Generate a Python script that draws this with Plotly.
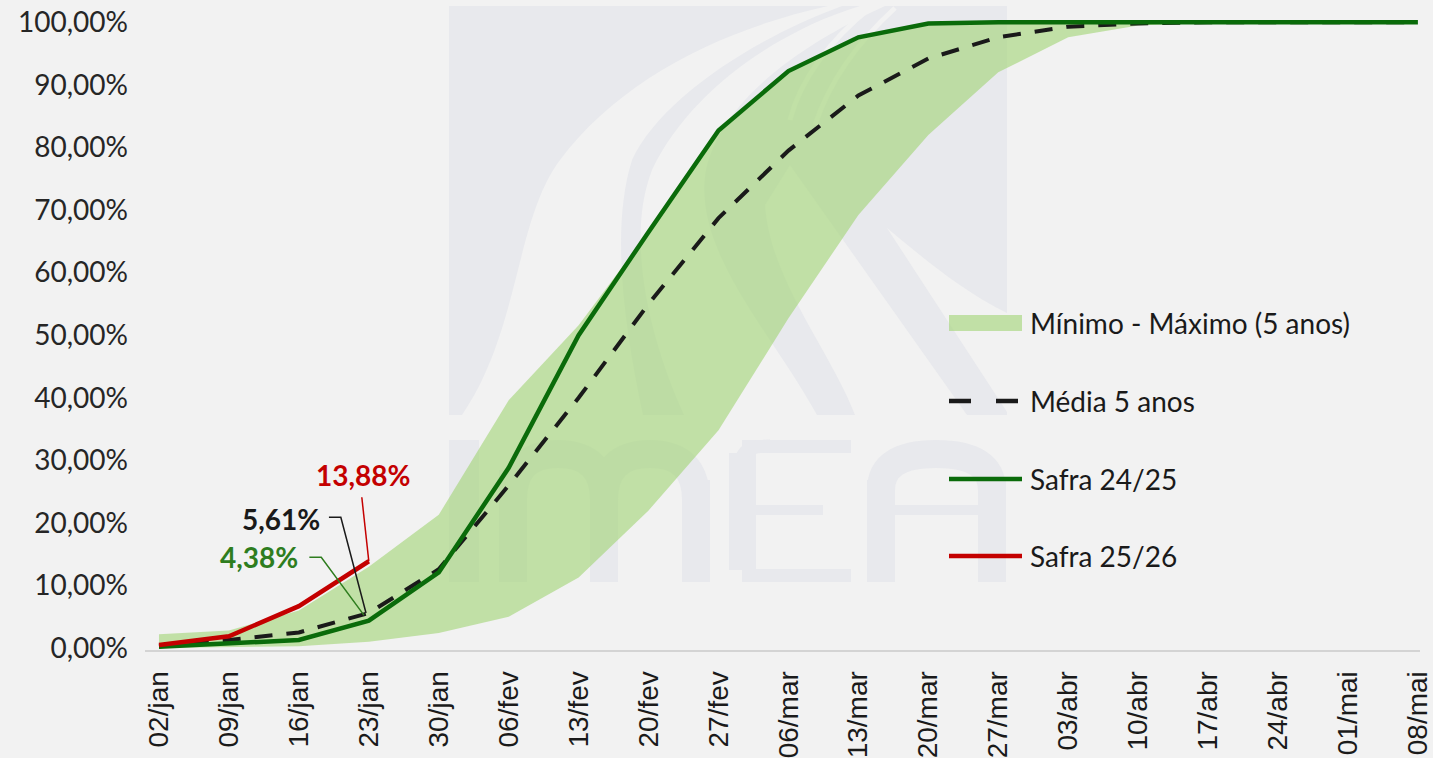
import plotly.graph_objects as go

# ---------------- data ----------------
categories = ["02/jan", "09/jan", "16/jan", "23/jan", "30/jan", "06/fev", "13/fev",
              "20/fev", "27/fev", "06/mar", "13/mar", "20/mar", "27/mar", "03/abr",
              "10/abr", "17/abr", "24/abr", "01/mai", "08/mai"]
band_min = [0.0, 0.1, 0.3, 1.0, 2.4, 5.0, 11.3, 22.0, 34.8, 52.7, 69.2, 82.0, 92.0,
            97.6, 99.5, 100, 100, 100, 100]
band_max = [2.2, 2.8, 6.0, 13.0, 21.3, 39.6, 51.6, 66.5, 82.7, 92.2, 97.6, 99.8, 100,
            100, 100, 100, 100, 100, 100]
media_5_anos = [0.3, 1.3, 2.5, 5.61, 12.6, 26.0, 40.0, 55.0, 68.7, 79.5, 88.3, 94.2,
                97.6, 99.3, 99.8, 100, 100, 100, 100]
safra_2425 = [0.2, 0.7, 1.3, 4.38, 12.1, 28.8, 50.0, 66.5, 82.7, 92.2, 97.6, 99.8, 100,
              100, 100, 100, 100, 100, 100]
safra_2526 = [0.5, 1.9, 6.7, 13.88]
y_ticks = [0, 10, 20, 30, 40, 50, 60, 70, 80, 90, 100]
y_tick_labels = ["0,00%", "10,00%", "20,00%", "30,00%", "40,00%", "50,00%", "60,00%",
                 "70,00%", "80,00%", "90,00%", "100,00%"]
legend_names = ["Mínimo - Máximo (5 anos)", "Média 5 anos", "Safra 24/25", "Safra 25/26"]

# ---------------- style ----------------
BG = "#f2f2f2"
WM = "#e8e9ed"
BAND = "rgba(160,212,115,0.6)"
GREEN = "#0a6b0a"
RED = "#c40000"
BLACK = "#1a1a1a"
LBL_GREEN = "#2e7d1e"
FONT = "Lato"

W, H = 1433, 758
ML, MR, MT, MB = 145, 13, 16, 108
PW, PH = W - ML - MR, H - MT - MB


def px(x, y):
    """pixel -> paper coordinates"""
    return (x - ML) / PW, (H - MB - y) / PH


def path(cmds):
    out = []
    for c in cmds:
        if isinstance(c, str):
            out.append(c)
        else:
            X, Y = px(*c)
            out.append(f"{X:.5f},{Y:.5f}")
    return " ".join(out)


def pct(v):
    return f"{v:.2f}%".replace(".", ",")


n = len(categories)
idx = list(range(n))

fig = go.Figure()
fig.add_trace(go.Scatter(x=idx, y=band_min, mode="lines", line=dict(width=0),
                         hoverinfo="skip", showlegend=False))
fig.add_trace(go.Scatter(x=idx, y=band_max, mode="lines", line=dict(width=0),
                         fill="tonexty", fillcolor=BAND, name=legend_names[0],
                         showlegend=False))
fig.add_trace(go.Scatter(x=idx, y=media_5_anos, mode="lines", name=legend_names[1],
                         line=dict(color=BLACK, width=4, dash="18px,14px"), showlegend=False))
fig.add_trace(go.Scatter(x=idx, y=safra_2425, mode="lines", name=legend_names[2],
                         line=dict(color=GREEN, width=4.5), showlegend=False))
fig.add_trace(go.Scatter(x=idx[:len(safra_2526)], y=safra_2526, mode="lines",
                         name=legend_names[3], line=dict(color=RED, width=4.5),
                         showlegend=False))

shapes = []
# ---------------- watermark (IMEA logo, approximate) ----------------
wm = dict(xref="paper", yref="paper", layer="below", line=dict(width=0))
x0, y0 = px(449, 415)
x1, y1 = px(1007, 6)
shapes.append(dict(type="rect", x0=x0, y0=y0, x1=x1, y1=y1, fillcolor=WM, **wm))
# white crescent (left)
shapes.append(dict(type="path", fillcolor=BG, path=path([
    "M", (462, 415), "C", (520, 330), (515, 220), (560, 160),
    "C", (620, 80), (720, 30), (828, 6), "L", (842, 6),
    "C", (750, 40), (660, 100), (632, 160),
    "C", (610, 230), (625, 330), (643, 415), "Z"]), **wm))
# white region between stripe 1 and stripe 2
shapes.append(dict(type="path", fillcolor=BG, path=path([
    "M", (684, 415), "C", (650, 340), (625, 240), (652, 170),
    "C", (690, 90), (780, 30), (860, 6), "L", (885, 6),
    "C", (800, 45), (722, 100), (706, 170),
    "C", (692, 250), (770, 330), (817, 415), "Z"]), **wm))
# white triangle between stripe 2 and diagonal stripe 3
shapes.append(dict(type="path", fillcolor=BG, path=path([
    "M", (855, 415), "C", (830, 350), (770, 280), (765, 205),
    "L", (790, 165), "L", (967, 415), "Z"]), **wm))
# white wedge between stripe 3 and top-right block
shapes.append(dict(type="path", fillcolor=BG, path=path([
    "M", (887, 228), "L", (1007, 412), "L", (1007, 313),
    "C", (960, 290), (920, 255), (887, 228), "Z"]), **wm))
# thin white arcs converging at the top
arc = dict(xref="paper", yref="paper", layer="below", line=dict(color=BG, width=5))
shapes.append(dict(type="path", path=path(["M", (870, 8), "C", (830, 40), (800, 80), (790, 120)]), **arc))
shapes.append(dict(type="path", path=path(["M", (895, 8), "C", (860, 40), (830, 80), (815, 125)]), **arc))
# letters I M E A
for r in [(449, 440, 479, 582),            # I
          (499, 470, 527, 582), (590, 480, 618, 582), (682, 480, 710, 582),  # m stems
          (729, 453, 756, 570),            # E stem
          (742, 440, 851, 453), (756, 505, 823, 515), (742, 569, 851, 582),  # E bars
          (867, 480, 895, 582), (978, 480, 1006, 582), (895, 505, 978, 515)]:  # A
    a0, b0 = px(r[0], r[3])
    a1, b1 = px(r[2], r[1])
    shapes.append(dict(type="rect", x0=a0, y0=b0, x1=a1, y1=b1, fillcolor=WM, **wm))
wm_line = dict(xref="paper", yref="paper", layer="below", line=dict(color=WM, width=28))
shapes.append(dict(type="path", path=path(["M", (513, 500), "Q", (513, 454), (558, 454),
                                           "Q", (604, 454), (604, 500)]), **wm_line))
shapes.append(dict(type="path", path=path(["M", (604, 500), "Q", (604, 454), (650, 454),
                                           "Q", (696, 454), (696, 500)]), **wm_line))
shapes.append(dict(type="path", path=path(["M", (742, 460), "Q", (742, 446), (770, 446)]),
                   xref="paper", yref="paper", layer="below",
                   line=dict(color=WM, width=13)))
shapes.append(dict(type="path", path=path(["M", (881, 490), "Q", (881, 454), (936, 454),
                                           "Q", (992, 454), (992, 490)]), **wm_line))

# ---------------- leader lines for data labels ----------------
shapes.append(dict(type="path", xref="x", yref="y", line=dict(color=RED, width=1.5),
                   path=f"M 2.90,24.1 L 3.0,{safra_2526[3]}"))
shapes.append(dict(type="path", xref="x", yref="y", line=dict(color=BLACK, width=1.5),
                   path=f"M 2.43,20.9 L 2.60,20.9 L 2.96,{media_5_anos[3]}"))
shapes.append(dict(type="path", xref="x", yref="y", line=dict(color=LBL_GREEN, width=1.5),
                   path=f"M 2.15,14.5 L 2.32,14.5 L 2.93,{safra_2425[3] + 0.9}"))

annotations = [
    dict(x=2.92, y=27.6, xref="x", yref="y", text=f"<b>{pct(safra_2526[3])}</b>",
         showarrow=False, font=dict(family=FONT, size=28, color=RED)),
    dict(x=1.75, y=20.7, xref="x", yref="y", text=f"<b>{pct(media_5_anos[3])}</b>",
         showarrow=False, font=dict(family=FONT, size=28, color=BLACK)),
    dict(x=1.43, y=14.5, xref="x", yref="y", text=f"<b>{pct(safra_2425[3])}</b>",
         showarrow=False, font=dict(family=FONT, size=28, color=LBL_GREEN)),
]

# ---------------- manual legend ----------------
leg_y = [323, 401, 479, 556]
sx0, sx1 = 949, 1022
a, b = px(sx0, leg_y[0] + 8)
c, d = px(sx1, leg_y[0] - 8)
shapes.append(dict(type="rect", xref="paper", yref="paper", x0=a, y0=b, x1=c, y1=d,
                   fillcolor=BAND, line=dict(width=0)))
for k, (col, dash) in enumerate([(BLACK, "22px,25px"), (GREEN, "solid"), (RED, "solid")]):
    a, b = px(sx0, leg_y[k + 1])
    c, _ = px(sx1 - 4 if k == 0 else sx1, leg_y[k + 1])
    shapes.append(dict(type="line", xref="paper", yref="paper", x0=a, y0=b, x1=c, y1=b,
                       line=dict(color=col, width=4.5, dash=dash)))
for k, name in enumerate(legend_names):
    a, b = px(1028, leg_y[k])
    annotations.append(dict(x=a, y=b, xref="paper", yref="paper", text=name,
                            showarrow=False, xanchor="left", yanchor="middle",
                            font=dict(family=FONT, size=28, color="#1a1a1a")))

fig.update_layout(
    width=W, height=H,
    margin=dict(l=ML, r=MR, t=MT, b=MB, autoexpand=False),
    paper_bgcolor=BG, plot_bgcolor=BG,
    showlegend=False,
    shapes=shapes,
    annotations=annotations,
    xaxis=dict(
        tickmode="array", tickvals=idx, ticktext=categories, tickangle=-90,
        range=[-0.2, 18.03], showgrid=False, zeroline=False, automargin=False,
        showline=True, linecolor="#d4d4d4", linewidth=2,
        ticks="", ticklabelstandoff=8,
        tickfont=dict(family="Liberation Sans", size=28, color="#1a1a1a"),
    ),
    yaxis=dict(
        tickmode="array", tickvals=y_ticks, ticktext=y_tick_labels,
        range=[-0.3, 101], showgrid=False, zeroline=False, showline=False,
        automargin=False, ticks="", ticklabelstandoff=16,
        tickfont=dict(family=FONT, size=28, color="#262626"),
    ),
)

fig.write_html(
    "out.html",
    config={"displayModeBar": False},
    post_script="document.body.style.margin='0';document.body.style.background='#f2f2f2';",
)
